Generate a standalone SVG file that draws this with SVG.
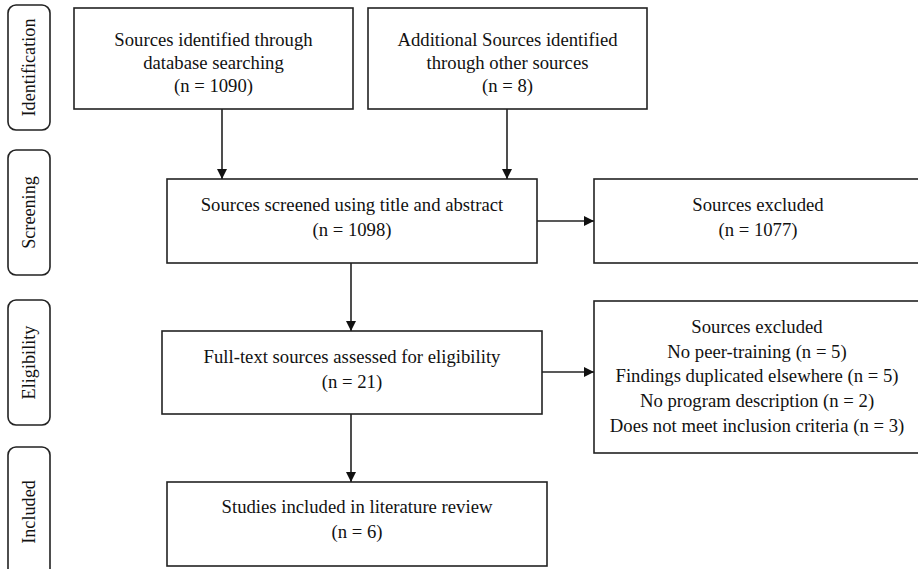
<svg xmlns="http://www.w3.org/2000/svg" width="918" height="569" viewBox="0 0 918 569">
<style>
.box{fill:#fff;stroke:#222;stroke-width:1.6}
.side{fill:#fff;stroke:#222;stroke-width:1.6}
.t{font-family:"Liberation Serif","Times New Roman",serif;font-size:18.7px;fill:#111;text-anchor:middle}
.s{font-family:"Liberation Serif","Times New Roman",serif;font-size:18.2px;fill:#111;text-anchor:middle}
.c{stroke:#222;stroke-width:1.6;fill:none;marker-end:url(#ah)}
</style>
<defs>
<marker id="ah" viewBox="0 0 10 10" refX="10" refY="5" markerWidth="10" markerHeight="10" markerUnits="userSpaceOnUse" orient="auto">
<path d="M0,0 L10,5 L0,10 z" fill="#111"/>
</marker>
</defs>
<rect width="918" height="569" fill="#fff"/>
<g id="phase-identification">
<rect class="side" x="8" y="5" width="42" height="125" rx="8"/>
<text class="s" transform="translate(35,67.5) rotate(-90)">Identification</text>
</g>
<g id="phase-screening">
<rect class="side" x="8" y="150" width="42" height="125" rx="8"/>
<text class="s" transform="translate(35,212.5) rotate(-90)">Screening</text>
</g>
<g id="phase-eligibility">
<rect class="side" x="8" y="300" width="42" height="125" rx="8"/>
<text class="s" transform="translate(35,362.5) rotate(-90)">Eligibility</text>
</g>
<g id="phase-included">
<rect class="side" x="8" y="447" width="42" height="130" rx="8"/>
<text class="s" transform="translate(35,512) rotate(-90)">Included</text>
</g>
<g id="node-database">
<rect class="box" x="74" y="8" width="279" height="101"/>
<text class="t" x="213.5" y="46">Sources identified through</text>
<text class="t" x="213.5" y="69">database searching</text>
<text class="t" x="213.5" y="92">(n = 1090)</text>
</g>
<g id="node-other">
<rect class="box" x="368" y="8" width="279" height="101"/>
<text class="t" x="507.5" y="46">Additional Sources identified</text>
<text class="t" x="507.5" y="69">through other sources</text>
<text class="t" x="507.5" y="92">(n = 8)</text>
</g>
<g id="node-screened">
<rect class="box" x="167" y="179" width="370" height="84"/>
<text class="t" x="352" y="211">Sources screened using title and abstract</text>
<text class="t" x="352" y="236">(n = 1098)</text>
</g>
<g id="node-excluded1">
<rect class="box" x="594" y="179" width="330" height="84"/>
<text class="t" x="758" y="211">Sources excluded</text>
<text class="t" x="758" y="236">(n = 1077)</text>
</g>
<g id="node-fulltext">
<rect class="box" x="162" y="331" width="380" height="83"/>
<text class="t" x="352" y="363">Full-text sources assessed for eligibility</text>
<text class="t" x="352" y="388">(n = 21)</text>
</g>
<g id="node-excluded2">
<rect class="box" x="594" y="301" width="330" height="152"/>
<text class="t" x="757" y="333">Sources excluded</text>
<text class="t" x="757" y="358">No peer-training (n = 5)</text>
<text class="t" x="757" y="382">Findings duplicated elsewhere (n = 5)</text>
<text class="t" x="757" y="407">No program description (n = 2)</text>
<text class="t" x="757" y="432">Does not meet inclusion criteria (n = 3)</text>
</g>
<g id="node-included">
<rect class="box" x="167" y="482" width="380" height="84"/>
<text class="t" x="357" y="513">Studies included in literature review</text>
<text class="t" x="357" y="538">(n = 6)</text>
</g>
<g id="connectors">
<line class="c" x1="222" y1="109" x2="222" y2="179"/>
<line class="c" x1="507" y1="109" x2="507" y2="179"/>
<line class="c" x1="537" y1="221" x2="594" y2="221"/>
<line class="c" x1="351" y1="263" x2="351" y2="331"/>
<line class="c" x1="542" y1="372" x2="594" y2="372"/>
<line class="c" x1="351" y1="414" x2="351" y2="482"/>
</g>
</svg>
